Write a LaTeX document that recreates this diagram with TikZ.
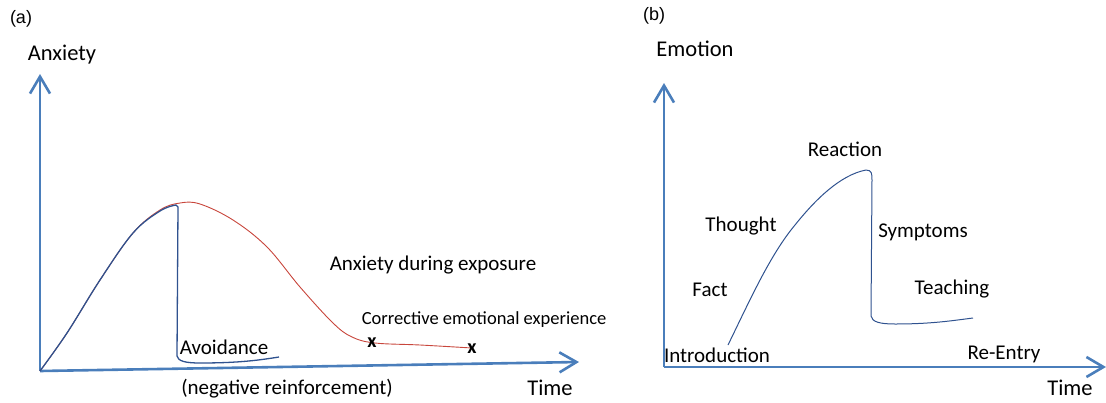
\documentclass[tikz,border=0pt]{standalone}
\usepackage{fontspec}
\setmainfont{Carlito}
\newfontfamily\arialfont{Liberation Sans}
\usetikzlibrary{arrows.meta}
\definecolor{axisblue}{RGB}{74,126,187}
\definecolor{curveblue}{RGB}{47,82,143}
\definecolor{curvered}{RGB}{200,70,60}
\tikzset{
  axis/.style={draw=axisblue,line width=2.6pt,-{Straight Barb[length=17pt,width=20pt]}},
  lbl/.style={inner sep=0pt,font=\fontsize{21}{25}\selectfont},
  big/.style={inner sep=0pt,font=\fontsize{22.5}{26}\selectfont},
  small/.style={inner sep=0pt,font=\fontsize{18.5}{22}\selectfont},
  panel/.style={inner sep=0pt,font=\arialfont\fontsize{18}{22}\selectfont},
  xmark/.style={inner sep=0pt,font=\fontsize{20}{22}\selectfont\bfseries},
  bluecurve/.style={draw=curveblue,line width=1.3pt,line join=round},
  redcurve/.style={draw=curvered,line width=0.9pt},
}
\begin{document}
\begin{tikzpicture}[x=1pt,y=-1pt]
\useasboundingbox (0,0) rectangle (1106,402);
% ---------- panel (a)
\node[panel] (pa) at (21,19) {(a)};
\node[big] (anx) at (62,55) {Anxiety};
\coordinate (oa) at (40,371);
\coordinate (ya) at (40,74);
\coordinate (xa) at (579,362);
\draw[axis] (oa) -- (ya);
\draw[axis] (oa) -- (xa);
\draw[redcurve] plot[smooth,tension=0.6] coordinates {(40,371) (67,333) (100,280) (133,233) (160,210) (180,203) (200,204) (233,220) (267,247) (300,287) (333,323) (352,337) (375,343) (420,345) (472,348)};
\draw[bluecurve] plot[smooth,tension=0.6] coordinates {(40,371) (67,333) (100,280) (133,233) (160,211) (176,205)} -- (178,207) -- (177,356) .. controls (178,361) and (185,363) .. (200,363) .. controls (240,363) and (260,360) .. (279,357);
\node[xmark] (x1) at (372,343) {x};
\node[xmark] (x2) at (472,349) {x};
\node[lbl] (avoid) at (224,347) {Avoidance};
\node[lbl] (neg) at (287,389) {(negative reinforcement)};
\node[lbl] (during) at (433,265) {Anxiety during exposure};
\node[small] (corr) at (484,320) {Corrective emotional experience};
\node[big] (timea) at (550,388) {Time};
% ---------- panel (b)
\node[panel] (pb) at (654,16) {(b)};
\node[big] (emo) at (695,49) {Emotion};
\coordinate (ob) at (664,367);
\coordinate (yb) at (664,83);
\coordinate (xb) at (1106,367);
\draw[axis] (ob) -- (yb);
\draw[axis] (ob) -- (xb);
\draw[bluecurve,line width=1pt] (728,345) .. controls (750,300) and (770,255) .. (795,225) .. controls (815,200) and (840,175) .. (866,170) .. controls (872,170) and (872,174) .. (872,180) -- (871,316) .. controls (872,322) and (880,324) .. (895,324) .. controls (930,324) and (950,321) .. (973,318);
\node[lbl] (react) at (845,149) {Reaction};
\node[lbl] (thought) at (741,226) {Thought};
\node[lbl] (symp) at (923,232) {Symptoms};
\node[lbl] (fact) at (710,290) {Fact};
\node[lbl] (teach) at (952,289) {Teaching};
\node[lbl] (intro) at (717,355) {Introduction};
\node[lbl] (reentry) at (1004,354) {Re-Entry};
\node[big] (timeb) at (1070,388) {Time};
\end{tikzpicture}
\end{document}
